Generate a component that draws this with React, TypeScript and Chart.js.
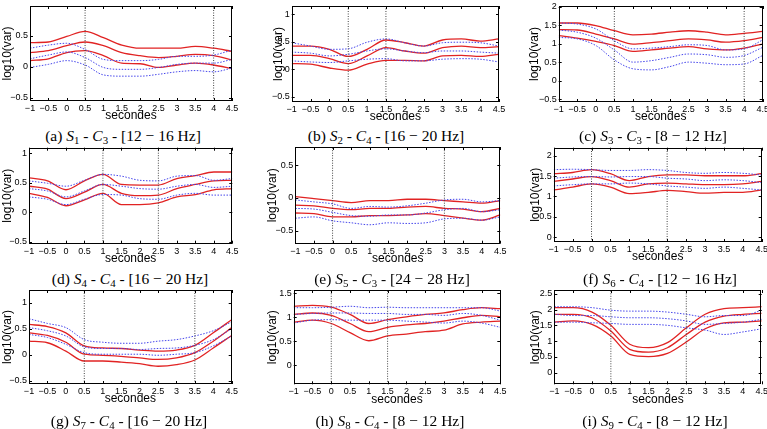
import React, { useEffect, useRef } from "react";
import { Chart, registerables } from "chart.js";
Chart.register(...registerables);

// time axis (seconds)
const seconds = [-1, -0.5, 0, 0.5, 1, 1.5, 2, 2.5, 3, 3.5, 4, 4.5];
const xTickValues = [-1, -0.5, 0, 0.5, 1, 1.5, 2, 2.5, 3, 3.5, 4, 4.5];

// (a) S1 - C3 - [12-16 Hz]
const aRedHigh = [0.39, 0.4, 0.49, 0.57, 0.47, 0.35, 0.3, 0.3, 0.3, 0.33, 0.3, 0.25];
const aRedMid = [0.23, 0.26, 0.34, 0.4, 0.34, 0.23, 0.18, 0.15, 0.17, 0.2, 0.18, 0.11];
const aRedLow = [0.1, 0.13, 0.23, 0.26, 0.18, 0.06, 0.05, -0.01, 0.03, 0.06, 0.03, -0.03];
const aBlueHigh = [0.3, 0.35, 0.38, 0.28, 0.12, 0.1, 0.1, 0.12, 0.17, 0.17, 0.19, 0.27];
const aBlueMid = [0.13, 0.19, 0.24, 0.15, -0.01, -0.04, -0.04, -0.01, 0.04, 0.06, 0.06, 0.12];
const aBlueLow = [-0.01, 0.04, 0.1, 0.03, -0.13, -0.15, -0.15, -0.12, -0.08, -0.06, -0.08, -0.02];
const aMarkers = [0.5, 4];
const aYTicks = [-0.5, 0, 0.5];

// (b) S2 - C4 - [16-20 Hz]
const bRedHigh = [0.42, 0.42, 0.36, 0.23, 0.36, 0.53, 0.48, 0.42, 0.53, 0.55, 0.51, 0.55];
const bRedMid = [0.25, 0.25, 0.19, 0.1, 0.24, 0.39, 0.33, 0.29, 0.39, 0.42, 0.39, 0.41];
const bRedLow = [0.1, 0.09, 0.02, -0.02, 0.09, 0.16, 0.16, 0.15, 0.24, 0.25, 0.23, 0.27];
const bBlueHigh = [0.48, 0.42, 0.36, 0.37, 0.49, 0.55, 0.48, 0.42, 0.48, 0.49, 0.48, 0.42];
const bBlueMid = [0.31, 0.29, 0.24, 0.27, 0.33, 0.37, 0.33, 0.3, 0.33, 0.33, 0.31, 0.29];
const bBlueLow = [0.15, 0.13, 0.12, 0.15, 0.18, 0.19, 0.15, 0.15, 0.18, 0.19, 0.18, 0.13];
const bMarkers = [0.5, 1.5];
const bYTicks = [-0.5, 0, 0.5, 1];

// (c) S3 - C3 - [8-12 Hz]
const cRedHigh = [1.56, 1.56, 1.49, 1.35, 1.24, 1.26, 1.31, 1.35, 1.31, 1.24, 1.28, 1.33];
const cRedMid = [1.38, 1.37, 1.26, 1.13, 0.99, 1.03, 1.08, 1.13, 1.1, 1.04, 1.08, 1.17];
const cRedLow = [1.22, 1.15, 1.06, 0.95, 0.79, 0.83, 0.88, 0.92, 0.86, 0.83, 0.88, 0.99];
const cBlueHigh = [1.56, 1.53, 1.4, 1.08, 0.86, 0.88, 0.92, 0.97, 0.95, 0.83, 0.86, 1.1];
const cBlueMid = [1.37, 1.31, 1.15, 0.83, 0.5, 0.54, 0.63, 0.72, 0.7, 0.63, 0.68, 0.9];
const cBlueLow = [1.17, 1.13, 0.95, 0.56, 0.32, 0.29, 0.38, 0.5, 0.47, 0.43, 0.45, 0.68];
const cMarkers = [0.5, 4];
const cYTicks = [-0.5, 0, 0.5, 1, 1.5, 2];

// (d) S4 - C4 - [16-20 Hz]
const dRedHigh = [0.58, 0.53, 0.38, 0.53, 0.64, 0.47, 0.46, 0.46, 0.57, 0.62, 0.68, 0.68];
const dRedMid = [0.44, 0.39, 0.23, 0.34, 0.47, 0.32, 0.28, 0.29, 0.4, 0.47, 0.53, 0.54];
const dRedLow = [0.32, 0.25, 0.11, 0.21, 0.32, 0.13, 0.13, 0.16, 0.26, 0.3, 0.38, 0.4];
const dBlueHigh = [0.53, 0.49, 0.44, 0.54, 0.64, 0.61, 0.54, 0.53, 0.61, 0.62, 0.54, 0.57];
const dBlueMid = [0.4, 0.36, 0.26, 0.36, 0.47, 0.44, 0.4, 0.39, 0.44, 0.47, 0.42, 0.44];
const dBlueLow = [0.26, 0.22, 0.13, 0.22, 0.3, 0.29, 0.23, 0.22, 0.29, 0.32, 0.29, 0.29];
const dMarkers = [1, 2.5];
const dYTicks = [-0.5, 0, 0.5, 1];

// (e) S5 - C3 - [24-28 Hz]
const eRedHigh = [0.02, -0.01, -0.04, -0.07, -0.04, -0.04, -0.02, -0.02, -0.04, -0.06, -0.08, -0.04];
const eRedMid = [-0.11, -0.12, -0.16, -0.18, -0.16, -0.16, -0.14, -0.13, -0.16, -0.17, -0.21, -0.16];
const eRedLow = [-0.23, -0.24, -0.29, -0.29, -0.27, -0.27, -0.26, -0.24, -0.27, -0.31, -0.34, -0.26];
const eBlueHigh = [-0.03, -0.06, -0.09, -0.16, -0.13, -0.14, -0.12, -0.08, -0.03, -0.02, -0.06, -0.04];
const eBlueMid = [-0.16, -0.17, -0.22, -0.27, -0.28, -0.26, -0.26, -0.23, -0.18, -0.16, -0.21, -0.18];
const eBlueLow = [-0.31, -0.29, -0.35, -0.38, -0.41, -0.38, -0.39, -0.38, -0.32, -0.31, -0.34, -0.29];
const eMarkers = [0, 3];
const eYTicks = [-0.5, 0, 0.5];

// (f) S6 - C4 - [12-16 Hz]
const fRedHigh = [1.56, 1.59, 1.66, 1.56, 1.39, 1.49, 1.53, 1.53, 1.51, 1.51, 1.51, 1.56];
const fRedMid = [1.37, 1.43, 1.49, 1.39, 1.23, 1.31, 1.33, 1.31, 1.29, 1.29, 1.31, 1.37];
const fRedLow = [1.16, 1.23, 1.31, 1.23, 1.07, 1.1, 1.15, 1.12, 1.08, 1.1, 1.1, 1.16];
const fBlueHigh = [1.66, 1.67, 1.66, 1.64, 1.64, 1.66, 1.64, 1.59, 1.57, 1.59, 1.57, 1.53];
const fBlueMid = [1.45, 1.48, 1.49, 1.48, 1.49, 1.49, 1.45, 1.43, 1.39, 1.41, 1.39, 1.34];
const fBlueLow = [1.26, 1.29, 1.31, 1.31, 1.33, 1.31, 1.26, 1.23, 1.2, 1.23, 1.2, 1.16];
const fMarkers = [0, 2];
const fYTicks = [0, 0.5, 1, 1.5, 2];

// (g) S7 - C4 - [16-20 Hz]
const gRedHigh = [0.58, 0.54, 0.42, 0.17, 0.13, 0.12, 0.09, 0.07, 0.09, 0.18, 0.42, 0.67];
const gRedMid = [0.42, 0.37, 0.24, 0.01, -0.01, -0.03, -0.06, -0.09, -0.06, 0.04, 0.26, 0.52];
const gRedLow = [0.26, 0.23, 0.07, -0.12, -0.12, -0.14, -0.17, -0.22, -0.19, -0.1, 0.13, 0.37];
const gBlueHigh = [0.69, 0.6, 0.52, 0.29, 0.24, 0.22, 0.22, 0.26, 0.29, 0.36, 0.46, 0.63];
const gBlueMid = [0.52, 0.46, 0.36, 0.15, 0.12, 0.12, 0.1, 0.12, 0.13, 0.18, 0.29, 0.5];
const gBlueLow = [0.39, 0.33, 0.2, 0.04, 0.01, 0.01, 0.01, -0.01, 0.01, 0.04, 0.17, 0.36];
const gMarkers = [0.5, 3.5];
const gYTicks = [-0.5, 0, 0.5, 1];

// (h) S8 - C4 - [8-12 Hz]
const hRedHigh = [1.23, 1.25, 1.21, 1.06, 0.87, 0.95, 1.01, 1.06, 1.09, 1.16, 1.2, 1.18];
const hRedMid = [1.06, 1.09, 1.04, 0.87, 0.7, 0.79, 0.84, 0.87, 0.92, 0.99, 1.04, 1.01];
const hRedLow = [0.9, 0.94, 0.87, 0.68, 0.51, 0.61, 0.65, 0.7, 0.73, 0.86, 0.9, 0.92];
const hBlueHigh = [1.2, 1.2, 1.21, 1.23, 1.2, 1.21, 1.2, 1.2, 1.2, 1.2, 1.2, 1.13];
const hBlueMid = [1.06, 1.08, 1.09, 1.09, 1.08, 1.08, 1.06, 1.06, 1.04, 1.08, 1.04, 0.94];
const hBlueLow = [0.88, 0.94, 0.95, 0.94, 0.94, 0.94, 0.92, 0.9, 0.88, 0.92, 0.88, 0.79];
const hMarkers = [0, 1.5];
const hYTicks = [0, 0.5, 1, 1.5];

// (i) S9 - C4 - [8-12 Hz]
const iRedHigh = [2.06, 2.06, 1.92, 1.5, 0.9, 0.79, 0.95, 1.42, 1.85, 2.03, 2.06, 2.09];
const iRedMid = [1.85, 1.85, 1.74, 1.32, 0.74, 0.65, 0.79, 1.21, 1.6, 1.79, 1.85, 1.88];
const iRedLow = [1.6, 1.64, 1.53, 1.16, 0.58, 0.51, 0.61, 0.97, 1.39, 1.58, 1.6, 1.64];
const iBlueHigh = [2.09, 2.09, 2.06, 1.98, 1.95, 1.95, 1.92, 1.85, 1.77, 1.81, 1.81, 1.98];
const iBlueMid = [1.85, 1.81, 1.81, 1.77, 1.74, 1.74, 1.71, 1.64, 1.53, 1.56, 1.6, 1.69];
const iBlueLow = [1.6, 1.6, 1.58, 1.56, 1.53, 1.53, 1.5, 1.42, 1.35, 1.21, 1.29, 1.39];
const iMarkers = [0.5, 2.5];
const iYTicks = [0, 0.5, 1, 1.5, 2, 2.5];

type PanelDef = {
  letter: string; subj: string; chan: string; band: string;
  red: number[][]; blue: number[][]; markers: number[]; yTicks: number[];
  yMin: number; yMax: number;
};

const panels: PanelDef[] = [
  { letter: "a", subj: "1", chan: "3", band: "12 − 16", red: [aRedHigh, aRedMid, aRedLow], blue: [aBlueHigh, aBlueMid, aBlueLow], markers: aMarkers, yTicks: aYTicks, yMin: -0.55, yMax: 0.98 },
  { letter: "b", subj: "2", chan: "4", band: "16 − 20", red: [bRedHigh, bRedMid, bRedLow], blue: [bBlueHigh, bBlueMid, bBlueLow], markers: bMarkers, yTicks: bYTicks, yMin: -0.6, yMax: 1.15 },
  { letter: "c", subj: "3", chan: "3", band: "8 − 12", red: [cRedHigh, cRedMid, cRedLow], blue: [cBlueHigh, cBlueMid, cBlueLow], markers: cMarkers, yTicks: cYTicks, yMin: -0.58, yMax: 2.02 },
  { letter: "d", subj: "4", chan: "4", band: "16 − 20", red: [dRedHigh, dRedMid, dRedLow], blue: [dBlueHigh, dBlueMid, dBlueLow], markers: dMarkers, yTicks: dYTicks, yMin: -0.53, yMax: 1.09 },
  { letter: "e", subj: "5", chan: "3", band: "24 − 28", red: [eRedHigh, eRedMid, eRedLow], blue: [eBlueHigh, eBlueMid, eBlueLow], markers: eMarkers, yTicks: eYTicks, yMin: -0.7, yMax: 0.78 },
  { letter: "f", subj: "6", chan: "4", band: "12 − 16", red: [fRedHigh, fRedMid, fRedLow], blue: [fBlueHigh, fBlueMid, fBlueLow], markers: fMarkers, yTicks: fYTicks, yMin: -0.12, yMax: 2.2 },
  { letter: "g", subj: "7", chan: "4", band: "16 − 20", red: [gRedHigh, gRedMid, gRedLow], blue: [gBlueHigh, gBlueMid, gBlueLow], markers: gMarkers, yTicks: gYTicks, yMin: -0.56, yMax: 1.24 },
  { letter: "h", subj: "8", chan: "4", band: "8 − 12", red: [hRedHigh, hRedMid, hRedLow], blue: [hBlueHigh, hBlueMid, hBlueLow], markers: hMarkers, yTicks: hYTicks, yMin: -0.4, yMax: 1.57 },
  { letter: "i", subj: "9", chan: "4", band: "8 − 12", red: [iRedHigh, iRedMid, iRedLow], blue: [iBlueHigh, iBlueMid, iBlueLow], markers: iMarkers, yTicks: iYTicks, yMin: -0.37, yMax: 2.62 },
];

// layout (page pixels): panel box, plot area, y-title centre, caption centre
type Box = { x0: number; y0: number; L: number; T: number; R: number; B: number; tx: number; cx: number; cy: number };
const boxes: Box[] = [
  { x0: 0, y0: 0, L: 30, T: 6, R: 232, B: 101, tx: 7.5, cx: 123, cy: 136 },
  { x0: 256, y0: 0, L: 291.7, T: 6, R: 499, B: 102, tx: 279, cx: 386, cy: 136 },
  { x0: 511, y0: 0, L: 558.7, T: 6, R: 762.7, B: 102, tx: 535, cx: 653, cy: 136 },
  { x0: 0, y0: 143, L: 29, T: 147.7, R: 232.3, B: 243.7, tx: 6.7, cx: 130, cy: 279 },
  { x0: 256, y0: 143, L: 295.3, T: 147, R: 500.3, B: 243.7, tx: 273, cx: 392, cy: 279 },
  { x0: 511, y0: 143, L: 553.7, T: 147.7, R: 761.7, B: 242, tx: 536, cx: 660, cy: 279 },
  { x0: 0, y0: 286, L: 29, T: 290, R: 231.7, B: 384, tx: 6.7, cx: 129, cy: 420.5 },
  { x0: 256, y0: 286, L: 293.7, T: 290, R: 500.3, B: 384.3, tx: 273, cx: 390, cy: 420.5 },
  { x0: 511, y0: 286, L: 554.3, T: 290, R: 761.7, B: 384.3, tx: 536, cx: 655, cy: 420.5 },
];

const fmt = (v: number) => (v < 0 ? "\u2212" + String(Math.abs(v)) : String(v));

const framePlugin = {
  id: "matlabFrame",
  afterDraw(chart: any) {
    const { ctx, chartArea } = chart;
    const { left, top, right, bottom } = chartArea;
    ctx.save();
    ctx.strokeStyle = "#000";
    ctx.lineWidth = 1;
    ctx.beginPath();
    const xs = chart.scales.x;
    const ys = chart.scales.y;
    const tl = 3;
    xs.ticks.forEach((t: any) => {
      const px = Math.round(xs.getPixelForValue(t.value)) + 0.5;
      ctx.moveTo(px, bottom); ctx.lineTo(px, bottom - tl);
      ctx.moveTo(px, top); ctx.lineTo(px, top + tl);
    });
    ys.ticks.forEach((t: any) => {
      const py = Math.round(ys.getPixelForValue(t.value)) + 0.5;
      ctx.moveTo(left, py); ctx.lineTo(left + tl, py);
      ctx.moveTo(right, py); ctx.lineTo(right - tl, py);
    });
    ctx.stroke();
    ctx.strokeRect(Math.round(left) + 0.5, Math.round(top) + 0.5, Math.round(right - left) - 1, Math.round(bottom - top) - 1);
    ctx.restore();
  },
};

const subStyle: React.CSSProperties = { fontSize: "70%", verticalAlign: "-0.3em", lineHeight: 0 };

function Panel({ p, b }: { p: PanelDef; b: Box }) {
  const ref = useRef<HTMLCanvasElement>(null);
  const w = 256;
  const h = Math.round(b.B + 24 - b.y0);
  useEffect(() => {
    if (!ref.current) return;
    const line = (vals: number[], color: string, dash: number[], width: number) => ({
      data: seconds.map((x, k) => ({ x, y: vals[k] })),
      borderColor: color,
      borderWidth: width,
      borderDash: dash,
      pointRadius: 0,
      fill: false,
      cubicInterpolationMode: "monotone" as const,
    });
    const datasets: any[] = [];
    p.markers.forEach((m) => {
      datasets.push({
        data: [{ x: m, y: p.yMin }, { x: m, y: p.yMax }],
        borderColor: "#444",
        borderWidth: 1,
        borderDash: [1, 1.5],
        pointRadius: 0,
        fill: false,
      });
    });
    p.blue.forEach((v) => datasets.push(line(v, "rgb(70,70,235)", [1.5, 1.5], 1)));
    p.red.forEach((v) => datasets.push(line(v, "rgb(225,35,35)", [], 1.3)));
    const chart = new Chart(ref.current, {
      type: "line",
      data: { datasets },
      plugins: [framePlugin],
      options: {
        animation: false,
        responsive: false,
        maintainAspectRatio: false,
        events: [],
        layout: { padding: { left: 0, top: b.T - b.y0, right: b.x0 + w - b.R, bottom: 0 } },
        plugins: { legend: { display: false }, tooltip: { enabled: false } },
        scales: {
          x: {
            type: "linear",
            min: -1,
            max: 4.5,
            grid: { display: false, drawTicks: false },
            border: { display: false },
            afterBuildTicks: (s: any) => { s.ticks = xTickValues.map((v) => ({ value: v })); },
            afterFit: (s: any) => { s.height = b.y0 + h - b.B; s.paddingLeft = 0; s.paddingRight = 0; },
            ticks: {
              autoSkip: false, maxRotation: 0, minRotation: 0, padding: 2, color: "#000",
              font: { family: "Liberation Sans, Arial, sans-serif", size: 9 },
              callback: (v: any) => fmt(Number(v)),
            },
            title: {
              display: true, text: "secondes", color: "#000",
              font: { family: "Liberation Sans, Arial, sans-serif", size: 12 },
              padding: { top: 0, bottom: Math.max(0, b.y0 + h - (b.B + 15) - 7.2) },
            },
          },
          y: {
            type: "linear",
            min: p.yMin,
            max: p.yMax,
            grid: { display: false, drawTicks: false },
            border: { display: false },
            afterBuildTicks: (s: any) => { s.ticks = p.yTicks.map((v) => ({ value: v })); },
            afterFit: (s: any) => { s.width = b.L - b.x0; s.paddingTop = 0; s.paddingBottom = 0; },
            ticks: {
              autoSkip: false, padding: 2, color: "#000",
              font: { family: "Liberation Sans, Arial, sans-serif", size: 9 },
              callback: (v: any) => fmt(Number(v)),
            },
            title: {
              display: true, text: "log10(var)", color: "#000",
              font: { family: "Liberation Sans, Arial, sans-serif", size: 12 },
              padding: { top: Math.max(0, b.tx - b.x0 - 7.2), bottom: 0 },
            },
          },
        },
      } as any,
    });
    return () => chart.destroy();
  }, []);
  return (
    <>
      <canvas
        ref={ref}
        width={w}
        height={h}
        style={{ position: "absolute", left: b.x0, top: b.y0, width: w, height: h }}
      />
      <div
        style={{
          position: "absolute", left: b.cx - 150, width: 300, top: b.cy - 9, height: 18, lineHeight: "18px",
          textAlign: "center", fontFamily: "'Liberation Serif', 'Times New Roman', serif", fontSize: 15.5,
          color: "#000", whiteSpace: "nowrap",
        }}
      >
        ({p.letter}) <i>S</i>
        <sub style={subStyle}>{p.subj}</sub> - <i>C</i>
        <sub style={subStyle}>{p.chan}</sub> - [{p.band} Hz]
      </div>
    </>
  );
}

export default function App() {
  return (
    <div style={{ position: "fixed", left: 0, top: 0, width: 767, height: 429, background: "#fff", overflow: "hidden" }}>
      {panels.map((p, k) => (
        <Panel key={p.letter} p={p} b={boxes[k]} />
      ))}
    </div>
  );
}
